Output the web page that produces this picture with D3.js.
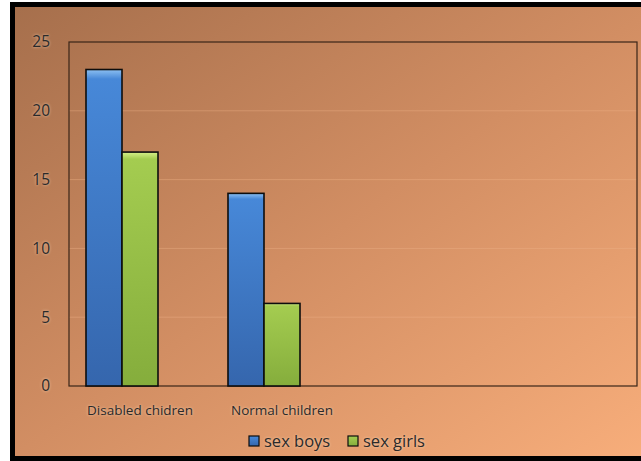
<!DOCTYPE html>
<html>
<head>
<meta charset="utf-8">
<script src="https://cdn.jsdelivr.net/npm/d3@7"></script>
<style>
  html, body { margin: 0; padding: 0; background: #ffffff; }
  svg { display: block; }
  text { font-family: "Open Sans", Lato, sans-serif; }
</style>
</head>
<body>
<script>
// ---- data ----
const categories = ["Disabled chidren", "Normal children", "", " "];
const seriesNames = ["sex boys", "sex girls", "series3"];
const boys = [23, 14, null, null];
const girls = [17, 6, null, null];
const third = [null, null, null, null];
const yTicks = [0, 5, 10, 15, 20, 25];

const W = 641, H = 461;
const svg = d3.select("body").append("svg").attr("width", W).attr("height", H);
const defs = svg.append("defs");

// background gradient
const bg = defs.append("linearGradient").attr("id", "bg")
  .attr("x1", "0%").attr("y1", "0%").attr("x2", "100%").attr("y2", "100%");
bg.append("stop").attr("offset", "0%").attr("stop-color", "#a66f4c");
bg.append("stop").attr("offset", "50%").attr("stop-color", "#d28e63");
bg.append("stop").attr("offset", "100%").attr("stop-color", "#f8ae7b");

function barGrad(id, light, mid, dark) {
  const g = defs.append("linearGradient").attr("id", id)
    .attr("x1", "0").attr("y1", "0").attr("x2", "0").attr("y2", "1");
  g.append("stop").attr("offset", "0").attr("stop-color", light);
  g.append("stop").attr("offset", "0.03").attr("stop-color", mid);
  g.append("stop").attr("offset", "1").attr("stop-color", dark);
}
barGrad("gBlue", "#8cc0f2", "#4788d8", "#3566ad");
barGrad("gGreen", "#d6f08a", "#a4cc50", "#85ad3c");

// frame
svg.append("rect").attr("x", 0).attr("y", 0).attr("width", W).attr("height", H).attr("fill", "#ffffff");
svg.append("rect").attr("x", 10).attr("y", 2).attr("width", W + 10).attr("height", H)
  .attr("fill", "#000000");
svg.append("rect").attr("x", 15).attr("y", 7).attr("width", W).attr("height", 449)
  .attr("fill", "url(#bg)");

const plot = { left: 69, right: 637, top: 42, bottom: 386 };

const x0 = d3.scaleBand().domain(categories).range([plot.left, plot.right]).paddingInner(0).paddingOuter(0);
const x1 = d3.scaleBand().domain(seriesNames).range([17, x0.bandwidth() - 17]);
const y = d3.scaleLinear().domain([0, 25]).range([plot.bottom, plot.top]);

// gridlines
svg.append("g").selectAll("line").data(yTicks.filter(d => d > 0 && d < 25)).join("line")
  .attr("x1", plot.left).attr("x2", plot.right)
  .attr("y1", d => y(d)).attr("y2", d => y(d))
  .attr("stroke", "#f0b58a").attr("stroke-opacity", 0.4).attr("stroke-width", 1);

// plot border
svg.append("rect").attr("x", plot.left).attr("y", plot.top)
  .attr("width", plot.right - plot.left).attr("height", plot.bottom - plot.top)
  .attr("fill", "none").attr("stroke", "#3a2518").attr("stroke-width", 1.2);

// y axis labels
const yAxis = d3.axisLeft(y).tickValues(yTicks).tickSize(0).tickPadding(19);
const gy = svg.append("g").attr("transform", `translate(${plot.left},0)`).call(yAxis);
gy.select(".domain").remove();
gy.selectAll("text").attr("font-size", 15.5).attr("fill", "#2a2a2a")
  .attr("font-family", "'Open Sans', Lato, sans-serif")
  .style("text-shadow", "0 0 3px rgba(255,220,190,0.8)");

// bars
const seriesData = [
  { name: "sex boys", values: boys, fill: "url(#gBlue)" },
  { name: "sex girls", values: girls, fill: "url(#gGreen)" },
  { name: "series3", values: third, fill: "none" }
];
seriesData.forEach(s => {
  svg.append("g").selectAll("rect")
    .data(categories.map((c, i) => ({ c, v: s.values[i] })).filter(d => d.v != null))
    .join("rect")
    .attr("x", d => x0(d.c) + x1(s.name))
    .attr("y", d => y(d.v))
    .attr("width", x1.bandwidth())
    .attr("height", d => y(0) - y(d.v))
    .attr("fill", s.fill)
    .attr("stroke", "#0d0d0d").attr("stroke-width", 1.6);
});

// x axis labels
const xAxis = d3.axisBottom(x0).tickSize(0).tickPadding(19);
const gx = svg.append("g").attr("transform", `translate(0,${plot.bottom})`).call(xAxis);
gx.select(".domain").remove();
gx.selectAll("text").attr("font-size", 13.5).attr("fill", "#2a2a2a")
  .attr("font-family", "'Open Sans', Lato, sans-serif")
  .style("text-shadow", "0 0 3px rgba(255,220,190,0.8)");

// legend
const legendItems = [
  { name: "sex boys", fill: "url(#gBlue)", x: 249 },
  { name: "sex girls", fill: "url(#gGreen)", x: 348 }
];
const lg = svg.append("g");
legendItems.forEach(it => {
  lg.append("rect").attr("x", it.x).attr("y", 436).attr("width", 10).attr("height", 10)
    .attr("fill", it.fill).attr("stroke", "#0d0d0d").attr("stroke-width", 1.2);
  lg.append("text").attr("x", it.x + 15).attr("y", 446.5)
    .attr("font-size", 16.5).attr("fill", "#2a2a2a").text(it.name)
    .style("text-shadow", "0 0 3px rgba(255,220,190,0.8)");
});
</script>
</body>
</html>
